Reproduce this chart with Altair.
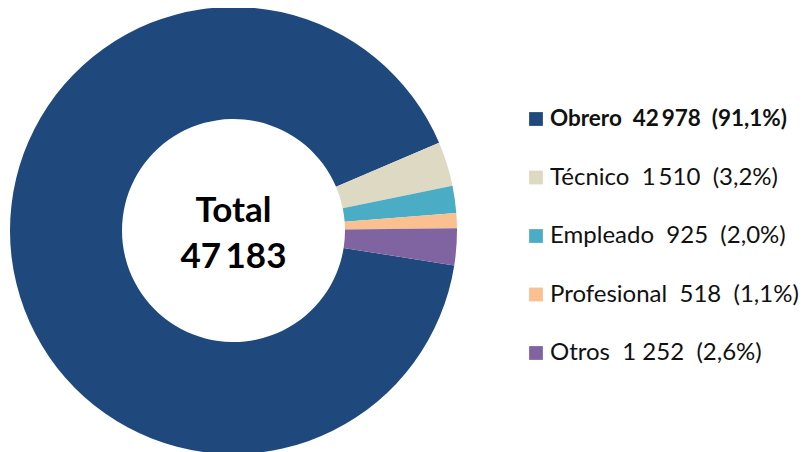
import altair as alt
import pandas as pd
import math

# ---- data ----
categories = ["Obrero", "Técnico", "Empleado", "Profesional", "Otros"]
values = [42978, 1510, 925, 518, 1252]
value_labels = ["42\u2009978", "1\u2009510", "925", "518", "1 252"]
pct_labels = ["91,1%", "3,2%", "2,0%", "1,1%", "2,6%"]
colors = ["#1F497D", "#DDD9C3", "#4BACC6", "#FAC090", "#8064A2"]
total_label = ["Total", "47\u2009183"]

NB = "\u00a0"
df = pd.DataFrame({
    "cat": categories,
    "value": values,
    "order": list(range(len(categories))),
    "label": [f"{c}{NB}{NB}{v}{NB}{NB}({p})" for c, v, p in zip(categories, value_labels, pct_labels)],
    "bold": [c == "Obrero" for c in categories],
})

start = math.radians(99.0)
color_scale = alt.Scale(domain=categories, range=colors)

W, H = 793, 444
cx, cy = 225.5, 222.5

donut = alt.Chart(df).mark_arc(outerRadius=223.5, innerRadius=111.5).encode(
    theta=alt.Theta("value:Q", stack=True, scale=alt.Scale(range=[start, start + 2 * math.pi])),
    order=alt.Order("order:Q"),
    color=alt.Color("cat:N", scale=color_scale, legend=None),
    x=alt.value(cx),
    y=alt.value(cy),
)

tdf = pd.DataFrame({"t": total_label, "i": [0, 1]})
center = alt.Chart(tdf).mark_text(
    font="Lato", fontSize=35, fontWeight="bold", color="#000000", baseline="middle", align="center"
).encode(
    text="t:N",
    x=alt.value(cx),
    y=alt.Y("i:O", scale=alt.Scale(type="point", domain=[0, 1], range=[203, 249], padding=0), axis=None),
)

ypos = alt.Y("cat:N", scale=alt.Scale(type="point", domain=categories, range=[111, 345], padding=0), axis=None)

squares = alt.Chart(df).mark_square(size=190, opacity=1).encode(
    x=alt.value(528),
    y=ypos,
    color=alt.Color("cat:N", scale=color_scale, legend=None),
)

labels_normal = alt.Chart(df).transform_filter("!datum.bold").mark_text(
    font="Lato", fontSize=24, align="left", baseline="middle", color="#111111"
).encode(x=alt.value(542), y=ypos, text="label:N")

labels_bold = alt.Chart(df).transform_filter("datum.bold").mark_text(
    font="Lato", fontSize=22.5, fontWeight="bold", align="left", baseline="middle", color="#111111"
).encode(x=alt.value(542), y=ypos, text="label:N")

chart = alt.layer(donut, center, squares, labels_normal, labels_bold).properties(
    width=W, height=H, padding=0, autosize=alt.AutoSizeParams(type="none"),
    view=alt.ViewBackground(stroke="transparent", strokeWidth=0),
).resolve_scale(y="independent").configure_view(strokeWidth=0, stroke="transparent").configure(background="#ffffff")

chart.save("out.html", embed_options={"renderer": "svg", "actions": False})
